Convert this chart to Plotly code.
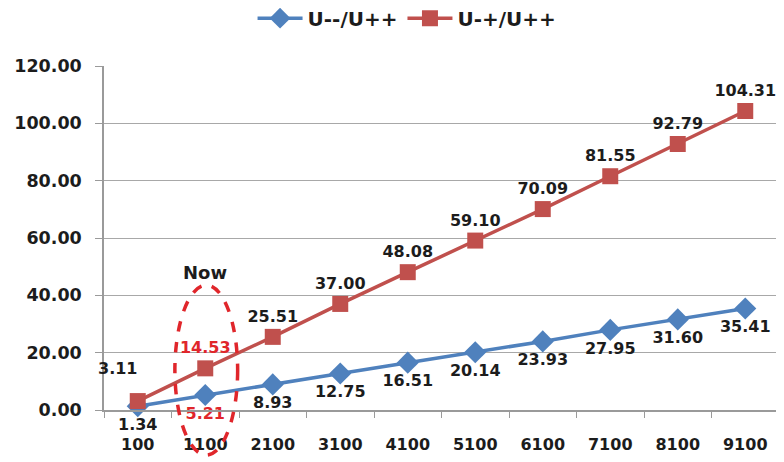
import plotly.graph_objects as go

categories = ["100", "1100", "2100", "3100", "4100", "5100", "6100", "7100", "8100", "9100"]
u_mm = [1.34, 5.21, 8.93, 12.75, 16.51, 20.14, 23.93, 27.95, 31.60, 35.41]
u_mp = [3.11, 14.53, 25.51, 37.00, 48.08, 59.10, 70.09, 81.55, 92.79, 104.31]
y_ticks = [0, 20, 40, 60, 80, 100, 120]
now_idx = 1

BLUE = "#4F81BD"
RED = "#C0504D"
DARK = "#1c1c1c"
HILITE = "#E0262B"
FONT = "DejaVu Sans"

blue_colors = [HILITE if i == now_idx else DARK for i in range(len(categories))]
red_colors = [HILITE if i == now_idx else DARK for i in range(len(categories))]
# the first red label is placed separately (above-left of its marker)
red_text = ["" if i == 0 else f"{v:.2f}" for i, v in enumerate(u_mp)]

fig = go.Figure()
fig.add_trace(go.Scatter(
    x=categories, y=u_mm, name="U--/U++", mode="lines+markers+text",
    line=dict(color=BLUE, width=3.5),
    marker=dict(symbol="diamond", size=17, color=BLUE),
    text=[f"{v:.2f}" for v in u_mm], textposition="bottom center",
    textfont=dict(family=FONT, size=16, color=blue_colors, weight="bold"),
    cliponaxis=False,
))
fig.add_trace(go.Scatter(
    x=categories, y=u_mp, name="U-+/U++", mode="lines+markers+text",
    line=dict(color=RED, width=3.5),
    marker=dict(symbol="square", size=16, color=RED),
    text=red_text, textposition="top center",
    textfont=dict(family=FONT, size=16, color=red_colors, weight="bold"),
    cliponaxis=False,
))
fig.add_annotation(x=0, y=u_mp[0], xref="x", yref="y",
                   text=f"<b>{u_mp[0]:.2f}</b>", showarrow=False,
                   xshift=-20, yshift=33,
                   font=dict(family=FONT, size=16, color=DARK))

# "Now" ellipse around the 1100 category
fig.add_shape(type="circle", xref="x", yref="paper",
              x0=now_idx - 0.45, x1=now_idx + 0.48, y0=-0.131, y1=0.363,
              line=dict(color=HILITE, width=3.5, dash="dash"))
fig.add_annotation(x=now_idx, y=0.40, xref="x", yref="paper", text="<b>Now</b>",
                   showarrow=False, yanchor="middle",
                   font=dict(family=FONT, size=18, color=DARK))

fig.update_layout(
    width=784, height=462,
    margin=dict(l=96, r=13, t=58, b=60, autoexpand=False),
    paper_bgcolor="white", plot_bgcolor="white",
    font=dict(family=FONT, size=16, color=DARK, weight="bold"),
    legend=dict(orientation="h", xref="container", yref="container",
                x=0.509, xanchor="center", y=0.978, yanchor="middle",
                font=dict(family=FONT, size=20, color=DARK, weight="bold"),
                itemwidth=45, tracegroupgap=0),
    showlegend=True,
)
fig.update_xaxes(type="category", range=[-0.5, len(categories) - 0.5],
                 showline=True, linecolor="#9a9a9a", linewidth=1.5,
                 ticks="outside", tickson="boundaries", ticklen=6, tickcolor="#9a9a9a",
                 showgrid=False, automargin=False, ticklabelstandoff=19,
                 tickfont=dict(family=FONT, size=16, color=DARK, weight="bold"))
fig.update_yaxes(range=[0, 120], tickvals=y_ticks, tickformat=".2f",
                 showline=True, linecolor="#9a9a9a", linewidth=1.5,
                 ticks="outside", ticklen=7, tickcolor="#9a9a9a",
                 showgrid=True, gridcolor="#a8a8a8", gridwidth=1.2, zeroline=False,
                 automargin=False, ticklabelstandoff=10,
                 tickfont=dict(family=FONT, size=17.5, color=DARK, weight="bold"))

fig.write_html("out.html")
